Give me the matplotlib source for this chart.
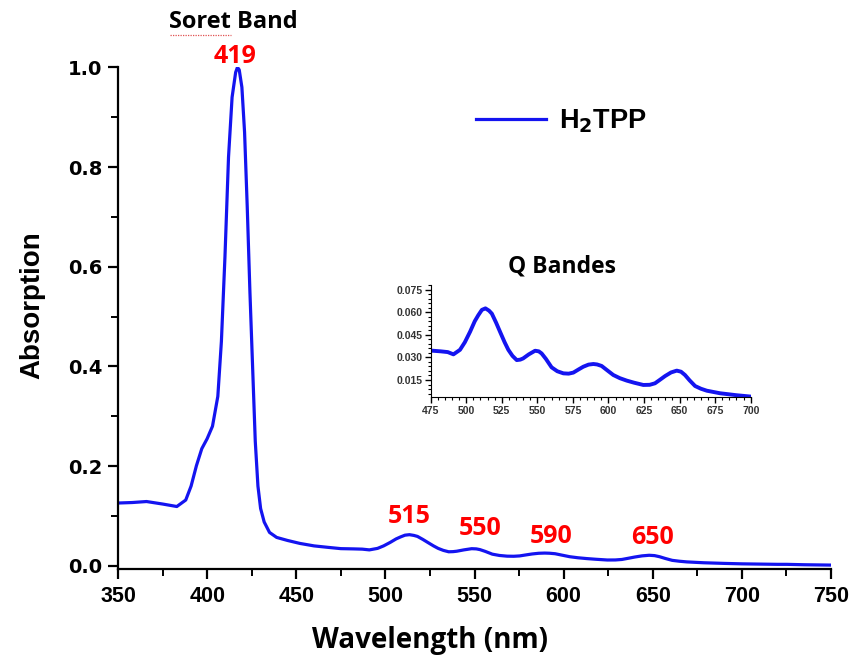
import numpy as np
import matplotlib.pyplot as plt
from matplotlib.ticker import MultipleLocator

# spectrum of H2TPP
wavelength = [350, 358, 366, 375, 383, 388, 391, 394, 397, 400, 403, 406, 408, 410,
              412, 414, 416, 417, 418, 419.5, 421, 422.5, 424, 425.5, 427, 428.5,
              430, 432, 435, 439, 445, 452, 460, 468, 475, 482, 487, 491, 495.6,
              499, 502.7, 506, 508.5, 511, 513.5, 516, 518, 521, 523.75, 527,
              529.6, 532.5, 535.5, 538, 540, 544, 548.4, 551, 553, 556, 560, 564,
              568.3, 572, 575.3, 579, 582.3, 586, 589.4, 592, 595.2, 599, 603.4,
              608, 612.8, 618, 624.5, 629, 632.7, 636, 639.8, 644, 648, 651,
              653.8, 657, 660.9, 665, 669.1, 678.4, 690, 700, 710, 720, 725,
              735, 750]
absorption = [0.126, 0.127, 0.129, 0.124, 0.119, 0.132, 0.160, 0.201, 0.235, 0.255,
              0.280, 0.340, 0.45, 0.62, 0.82, 0.94, 0.99, 1.0, 0.995, 0.96, 0.87,
              0.72, 0.55, 0.40, 0.25, 0.16, 0.115, 0.088, 0.067, 0.057, 0.051,
              0.045, 0.040, 0.037, 0.0345, 0.034, 0.0335, 0.032, 0.035, 0.040,
              0.047, 0.054, 0.058, 0.0615, 0.0625, 0.061, 0.059, 0.053, 0.047,
              0.040, 0.035, 0.031, 0.0282, 0.0285, 0.0293, 0.032, 0.0344, 0.034,
              0.0326, 0.029, 0.0234, 0.0208, 0.0194, 0.0192, 0.0199, 0.022,
              0.0238, 0.0252, 0.0256, 0.0253, 0.0243, 0.0215, 0.0183, 0.0162,
              0.0146, 0.0132, 0.0117, 0.0118, 0.0128, 0.015, 0.0176, 0.020,
              0.0212, 0.0205, 0.0183, 0.0148, 0.011, 0.0092, 0.0079, 0.0062,
              0.0049, 0.004, 0.0035, 0.003, 0.003, 0.0022, 0.0015]

peak_labels = ['419', '515', '550', '590', '650']
peak_x = [415.5, 513.5, 553, 593, 650]
peak_y = [1.009, 0.0857, 0.0616, 0.0456, 0.0436]

blue = '#1414f0'
tickfont = 'Liberation Sans'
textfont = 'Open Sans'

fig = plt.figure(figsize=(8.52, 6.55), dpi=100)
ax = fig.add_axes([0.1385, 0.1308, 0.8369, 0.7664])
ax.plot(wavelength, absorption, color=blue, lw=2.3, label='H$_\\mathbf{2}$TPP')
ax.set_xlim(350, 750)
ax.set_ylim(-0.007, 1.0)
ax.spines['top'].set_visible(False)
ax.spines['right'].set_visible(False)
for s in ['left', 'bottom']:
    ax.spines[s].set_linewidth(1.6)
ax.xaxis.set_major_locator(MultipleLocator(50))
ax.xaxis.set_minor_locator(MultipleLocator(25))
ax.yaxis.set_major_locator(MultipleLocator(0.2))
ax.yaxis.set_minor_locator(MultipleLocator(0.1))
ax.tick_params(which='major', direction='out', length=7, width=1.6, pad=5)
ax.tick_params(which='minor', direction='out', length=5, width=1.4)
ax.tick_params(axis='x', labelsize=15.5)
ax.tick_params(axis='y', labelsize=14, pad=4.5)
for lab in ax.get_xticklabels():
    lab.set_fontweight('bold')
    lab.set_family(tickfont)
for lab in ax.get_yticklabels():
    lab.set_fontweight('bold')
    lab.set_family('DejaVu Sans')
ax.set_xlabel('Wavelength (nm)', fontsize=20, fontweight='bold', family=textfont)
ax.xaxis.set_label_coords(0.4376, -0.112)
ax.set_ylabel('Absorption', fontsize=20, fontweight='bold', family=tickfont)
ax.yaxis.set_label_coords(-0.102, 0.526)

for lab, x, y in zip(peak_labels, peak_x, peak_y):
    ax.text(x, y, lab, color='red', fontsize=18, fontweight='bold', family=textfont,
            ha='center', va='baseline')

fig.text(0.2735, 0.966, 'Soret Band', fontsize=17, fontweight='bold',
         family=textfont, ha='center', va='center')
# spell-check squiggle under "Soret"
fig.add_artist(plt.Line2D([0.199, 0.271], [0.947, 0.947], color='#e05050',
                          lw=0.9, ls=(0, (1, 1))))

leg = ax.legend(loc='center left', bbox_to_anchor=(0.468, 0.892), frameon=False,
                handlelength=2.6, handletextpad=0.45,
                prop={'size': 19.5, 'weight': 'bold', 'family': tickfont})

# inset with the Q bands
ins = fig.add_axes([0.5055, 0.3934, 0.3756, 0.1715])
ins.plot(wavelength, absorption, color=blue, lw=2.8)
ins.set_xlim(475, 700)
ins.set_ylim(0.0035, 0.078)
ins.spines['top'].set_visible(False)
ins.spines['right'].set_visible(False)
ins.xaxis.set_major_locator(MultipleLocator(25))
ins.xaxis.set_minor_locator(MultipleLocator(5))
ins.yaxis.set_major_locator(MultipleLocator(0.015))
ins.yaxis.set_minor_locator(MultipleLocator(0.003))
ins.yaxis.set_major_formatter(plt.FormatStrFormatter('%.3f'))
ins.tick_params(which='major', direction='out', length=4, width=1, labelsize=7.5,
                pad=2, labelcolor='#333333')
ins.tick_params(which='minor', direction='out', length=2, width=0.8)
for lab in ins.get_xticklabels() + ins.get_yticklabels():
    lab.set_fontweight('bold')
    lab.set_family(tickfont)
ins.text(0.41, 1.06, 'Q Bandes', transform=ins.transAxes, fontsize=16.5,
         fontweight='bold', family=textfont, ha='center', va='bottom')

plt.savefig('out.png', dpi=100)
